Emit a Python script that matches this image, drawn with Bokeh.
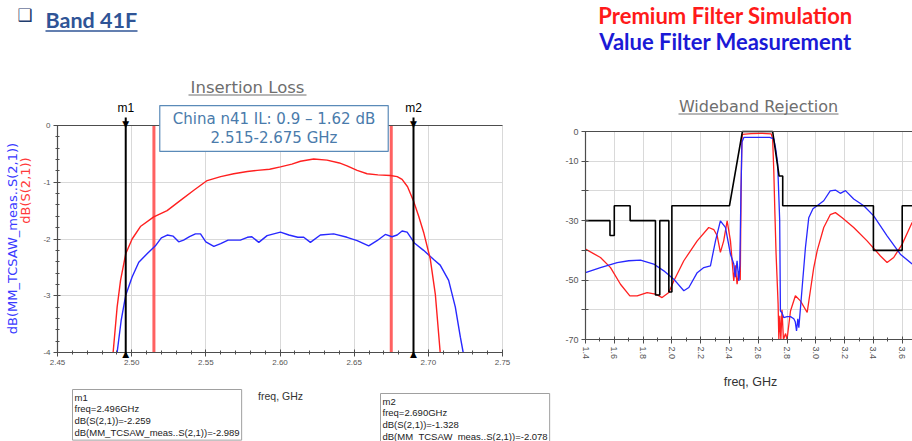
import math
import numpy as np
from bokeh.plotting import figure
from bokeh.models import (Label, Arrow, Range1d, FixedTicker, PrintfTickFormatter,
                          LinearAxis, Grid)
from bokeh.embed import file_html
from bokeh.resources import INLINE

# ---------------- data: Insertion Loss (left chart) ----------------
il_sim_freq = [2.4875, 2.4902, 2.4925, 2.4960, 2.5003, 2.5059, 2.5149, 2.5239, 2.5329,
               2.5419, 2.5509, 2.5600, 2.5688, 2.5780, 2.5846, 2.5930, 2.6003, 2.6080,
               2.6138, 2.6227, 2.6317, 2.6400, 2.6452, 2.6520, 2.6587, 2.6660, 2.6744,
               2.6790, 2.6823, 2.6860, 2.6900, 2.6935, 2.6968, 2.7013, 2.7047, 2.7080]
il_sim_db = [-4.00, -3.20, -2.73, -2.26, -2.00, -1.78, -1.61, -1.50, -1.32,
             -1.14, -0.97, -0.90, -0.85, -0.81, -0.79, -0.77, -0.73, -0.68,
             -0.63, -0.59, -0.61, -0.66, -0.71, -0.79, -0.85, -0.87, -0.88,
             -0.90, -0.95, -1.08, -1.33, -1.60, -1.88, -2.35, -2.97, -4.00]

il_meas_freq = [2.4902, 2.4929, 2.4960, 2.5003, 2.5048, 2.5104, 2.5160, 2.5200, 2.5240, 2.5280,
                2.5317, 2.5350, 2.5390, 2.5430, 2.5464, 2.5500, 2.5554, 2.5600, 2.5650, 2.5733,
                2.5780, 2.5810, 2.5857, 2.5913, 2.6003, 2.6060, 2.6120, 2.6160, 2.6205, 2.6272,
                2.6362, 2.6452, 2.6520, 2.6598, 2.6654, 2.6710, 2.6755, 2.6790, 2.6823, 2.6857,
                2.6906, 2.6968, 2.7036, 2.7080, 2.7137, 2.7182, 2.7216, 2.7235]
il_meas_db = [-4.00, -3.44, -2.99, -2.67, -2.41, -2.26, -2.12, -1.98, -1.93, -1.95,
              -2.05, -2.02, -1.96, -1.91, -1.91, -2.05, -2.13, -2.08, -2.02, -2.02,
              -1.97, -1.96, -2.06, -1.94, -1.88, -1.93, -1.97, -1.97, -2.06, -1.93,
              -1.91, -1.97, -2.03, -2.12, -2.03, -1.92, -1.96, -1.93, -1.86, -1.88,
              -2.07, -2.20, -2.36, -2.46, -2.73, -3.20, -3.73, -4.00]

marker_names = ["m1", "m2"]
marker_freq = [2.496, 2.690]
marker_sim_db = [-2.259, -1.328]
marker_meas_db = [-2.989, -2.078]
band_edges = [2.515, 2.675]
band_note = "China n41 IL: 0.9 \u2013 1.62 dB\n2.515-2.675 GHz"

il_xticks = [2.45, 2.50, 2.55, 2.60, 2.65, 2.70, 2.75]
il_yticks = [0, -1, -2, -3, -4]

# ---------------- data: Wideband Rejection (right chart) ----------------
mask_freq = [1.40, 1.57, 1.57, 1.60, 1.60, 1.71, 1.71, 1.886, 1.886, 1.916, 1.916, 1.979, 1.979,
             2.00, 2.00, 2.40, 2.49, 2.70, 2.745, 2.77, 2.77, 3.40, 3.40, 3.60, 3.60, 3.70]
mask_db = [-30, -30, -35, -35, -25, -25, -30, -30, -55, -55, -30, -30, -54,
           -54, -25, -25, 0, 0, -15, -15, -25, -25, -40, -40, -25, -25]

wb_sim_freq = [1.400, 1.504, 1.574, 1.643, 1.708, 1.759, 1.828, 1.886, 1.932, 1.979,
               2.013, 2.083, 2.176, 2.256, 2.291, 2.315, 2.337, 2.360, 2.384, 2.407,
               2.430, 2.440, 2.453, 2.465, 2.475, 2.481, 2.486, 2.490, 2.550, 2.620,
               2.690, 2.700, 2.708, 2.716, 2.724, 2.738, 2.743, 2.750, 2.757, 2.765,
               2.775, 2.790, 2.800, 2.824, 2.858, 2.893, 2.940, 2.962, 2.985, 3.010,
               3.055, 3.100, 3.136, 3.183, 3.263, 3.356, 3.449, 3.495, 3.541, 3.600, 3.669]
wb_sim_db = [-39.6, -42.4, -45.8, -51.4, -55.3, -55.3, -54.2, -54.7, -55.9, -54.2,
             -50.3, -43.5, -36.8, -32.3, -33.0, -35.1, -40.7, -36.8, -30.1, -36.8,
             -50.3, -45.0, -51.4, -47.0, -50.0, -20.0, -3.0, -1.0, -0.7, -0.6,
             -0.8, -2.5, -13.2, -28.0, -41.3, -58.1, -70.0, -62.0, -70.0, -60.0,
             -70.0, -68.0, -70.0, -60.4, -55.3, -57.0, -60.9, -53.6, -46.0, -40.0,
             -32.3, -28.0, -27.3, -29.0, -32.3, -36.8, -41.9, -44.1, -42.4, -37.9, -30.6]

wb_meas_freq = [1.400, 1.504, 1.620, 1.700, 1.782, 1.874, 1.944, 2.013, 2.083, 2.118,
                2.176, 2.222, 2.268, 2.303, 2.337, 2.372, 2.407, 2.430, 2.440, 2.453,
                2.465, 2.472, 2.480, 2.487, 2.500, 2.600, 2.680, 2.708, 2.722, 2.735,
                2.749, 2.754, 2.765, 2.777, 2.800, 2.824, 2.847, 2.857, 2.866, 2.875,
                2.882, 2.905, 2.928, 2.951, 2.980, 3.009, 3.055, 3.100, 3.136, 3.170,
                3.206, 3.263, 3.333, 3.402, 3.495, 3.587, 3.669]
wb_meas_db = [-47.5, -45.8, -44.1, -43.5, -43.3, -44.6, -46.9, -49.7, -53.6, -52.5,
              -47.5, -45.8, -45.2, -36.8, -30.1, -32.3, -41.3, -44.6, -49.0, -43.5,
              -50.3, -45.0, -20.0, -3.5, -2.0, -2.0, -2.0, -2.5, -6.0, -11.0,
              -30.0, -60.4, -61.0, -62.6, -62.3, -62.3, -63.0, -64.0, -67.1, -63.0,
              -66.0, -52.5, -39.0, -29.0, -26.0, -25.0, -23.3, -20.0, -19.7, -20.8,
              -19.9, -22.7, -25.0, -28.4, -35.1, -41.3, -44.6]

wb_xticks = [1.4, 1.6, 1.8, 2.0, 2.2, 2.4, 2.6, 2.8, 3.0, 3.2, 3.4, 3.6]
wb_yticks = [0, -10, -20, -30, -40, -50, -60, -70]
wb_yhidden = [-20, -40, -60]

# ---------------- layout / styling ----------------
W, H = 912, 441
AX = "#4d4d4d"
GRID = "#d9d9d9"
TICKF = "Liberation Sans"
HEADF = "Lato"
RED = "#ff2020"
BLUE = "#2828ff"

LX0, LX1, LY0, LY1 = 57.0, 502.0, 125.0, 352.0     # 2.45 GHz, 2.75 GHz, 0 dB, -4 dB
RX0, RX1, RY0, RY1 = 585.0, 901.7, 131.0, 339.0     # 1.4 GHz, 3.6 GHz, 0 dB, -70 dB
lkx, lky = (LX1 - LX0) / 0.30, (LY1 - LY0) / 4.0
rkx, rky = (RX1 - RX0) / 2.2, (RY1 - RY0) / 70.0

p = figure(width=W, height=H, output_backend="svg", toolbar_location=None,
           x_axis_type=None, y_axis_type=None,
           x_range=Range1d(2.45 - LX0 / lkx, 2.45 + (W - LX0) / lkx),
           y_range=Range1d(-(H - LY0) / lky, LY0 / lky),
           min_border_left=0, min_border_right=0, min_border_top=0, min_border_bottom=0)
p.extra_x_ranges = {"rx": Range1d(1.4 - RX0 / rkx, 1.4 + (W - RX0) / rkx)}
p.extra_y_ranges = {"ry": Range1d(-(H - RY0) / rky, RY0 / rky)}
p.title.text = ""
p.title.visible = False
p.outline_line_color = None
p.background_fill_color = "white"
p.border_fill_color = "white"
p.grid.visible = False


def Lc(px, py):
    """canvas pixel -> left-chart data coordinates (text placement only)"""
    return 2.45 + (px - LX0) / lkx, -(py - LY0) / lky


def label(px, py, text, **kw):
    x, y = Lc(px, py)
    lab = Label(x=x, y=y, text=text, **kw)
    p.add_layout(lab)
    return lab


def hline(px0, px1, py, color, width=1.0):
    x0, y0 = Lc(px0, py)
    x1, _ = Lc(px1, py)
    p.add_layout(Arrow(start=None, end=None, x_start=x0, y_start=y0, x_end=x1, y_end=y0,
                       line_color=color, line_width=width))


def style_axis(ax, fsize):
    ax.axis_line_color = AX
    ax.axis_line_width = 1.2
    ax.major_tick_line_color = AX
    ax.minor_tick_line_color = AX
    ax.major_tick_in = 3
    ax.major_tick_out = 4
    ax.minor_tick_in = 2
    ax.minor_tick_out = 2
    ax.major_label_text_font = TICKF
    ax.major_label_text_font_size = fsize
    ax.major_label_text_color = "#555555"
    ax.major_label_standoff = 3


HAS_CROSS = "cross_bounds" in Grid.properties()


def add_grid(dim, ticker, bounds, cross, xr="default", yr="default"):
    if HAS_CROSS:
        p.add_layout(Grid(dimension=dim, ticker=ticker, bounds=bounds, cross_bounds=cross,
                          x_range_name=xr, y_range_name=yr, grid_line_color=GRID))
    else:
        t = [v for v in ticker.ticks if bounds[0] <= v <= bounds[1]]
        if dim == 0:
            p.segment(t, [cross[0]] * len(t), t, [cross[1]] * len(t), line_color=GRID,
                      x_range_name=xr, y_range_name=yr, level="underlay")
        else:
            p.segment([cross[0]] * len(t), t, [cross[1]] * len(t), t, line_color=GRID,
                      x_range_name=xr, y_range_name=yr, level="underlay")


# ---------------- left chart: Insertion Loss ----------------
txk = FixedTicker(ticks=il_xticks, minor_ticks=list(np.round(np.arange(2.45, 2.7501, 0.01), 3)))
tyk = FixedTicker(ticks=il_yticks, minor_ticks=list(np.round(np.arange(-4, 0.001, 0.2), 2)))
add_grid(0, txk, (2.45, 2.75), (-4, 0))
add_grid(1, tyk, (-4, 0), (2.45, 2.75))

axLx = LinearAxis(ticker=txk, formatter=PrintfTickFormatter(format="%.2f"),
                  fixed_location=-4, bounds=(2.45, 2.75))
axLy = LinearAxis(ticker=tyk, formatter=PrintfTickFormatter(format="%d"),
                  fixed_location=2.45, bounds=(-4, 0))
style_axis(axLx, "8px")
style_axis(axLy, "8px")
p.add_layout(axLx, "below")
p.add_layout(axLy, "left")
p.add_layout(Arrow(start=None, end=None, x_start=2.45, y_start=0, x_end=2.75, y_end=0,
                   line_color=AX, line_width=1.2))

p.segment(band_edges, [0] * len(band_edges), band_edges, [-4] * len(band_edges),
          line_color="#ff5050", line_width=3, line_alpha=0.9)
p.line(il_meas_freq, il_meas_db, line_color=BLUE, line_width=1.4)
p.line(il_sim_freq, il_sim_db, line_color=RED, line_width=1.4)

for name, f in zip(marker_names, marker_freq):
    p.add_layout(Arrow(start=None, end=None, x_start=f, y_start=Lc(0, 117)[1], x_end=f,
                       y_end=Lc(0, 356)[1], line_color="black", line_width=2))
    p.add_layout(Label(x=f, y=0, text="\u25bc", text_align="center", text_baseline="middle",
                       text_font="DejaVu Sans", text_font_size="9px", text_color="black", y_offset=2))
    p.add_layout(Label(x=f, y=-4, text="\u25b2", text_align="center", text_baseline="middle",
                       text_font="DejaVu Sans", text_font_size="9px", text_color="black", y_offset=-1))
    p.add_layout(Label(x=f, y=Lc(0, 107)[1], text=name, text_align="center",
                       text_baseline="middle", text_font=TICKF, text_font_size="12px",
                       text_color="black"))

note = label(273.5, 128, band_note, text_align="center", text_baseline="middle",
             text_font="DejaVu Sans", text_font_size="15px", text_color="#4a7bab", text_line_height=1.1,
             background_fill_color="white", border_line_color="#5a8ab8", border_line_width=1.2, padding=5)
try:
    note.padding = dict(left=13, right=13, top=4, bottom=4)
except Exception:
    note.padding = 5

label(24.5, 14.5, "\u2751", text_align="center", text_baseline="middle",
      text_font="DejaVu Sans", text_font_size="17px", text_color="#1f3d6e")
label(45, 19, "Band 41F", text_align="left", text_baseline="middle",
      text_font=HEADF, text_font_size="21.5px", text_font_style="bold", text_color="#2f5496")
hline(45, 137, 30.5, "#2f5496", 1.6)
label(247, 86.5, "Insertion Loss", text_align="center", text_baseline="middle",
      text_font="DejaVu Sans", text_font_size="16.5px", text_color="#6e6e6e")
hline(188, 306, 94.5, "#6e6e6e", 1.0)

label(12, 238, "dB(MM_TCSAW_meas..S(2,1))", text_align="center", text_baseline="middle",
      angle=math.pi / 2, text_font="DejaVu Sans", text_font_size="13px", text_color="#3a3aff")
label(25, 190, "dB(S(2,1))", text_align="center", text_baseline="middle",
      angle=math.pi / 2, text_font="DejaVu Sans", text_font_size="13px", text_color="#ff3a3a")
label(280, 395, "freq, GHz", text_align="center", text_baseline="middle",
      text_font=TICKF, text_font_size="10.5px", text_color="#333333")

for i, (px, py) in enumerate([(72, 389), (380, 393)]):
    txt = "%s\nfreq=%.3fGHz\ndB(S(2,1))=%.3f\ndB(MM_TCSAW_meas..S(2,1))=%.3f" % (
        marker_names[i], marker_freq[i], marker_sim_db[i], marker_meas_db[i])
    label(px, py, txt, text_align="left", text_baseline="top",
          text_font=TICKF, text_font_size="9.5px", text_color="#222222", text_line_height=1.08,
          background_fill_color="white", border_line_color="#a0a0a0", border_line_width=1, padding=2)

# ---------------- right chart: Wideband Rejection ----------------
rxk = FixedTicker(ticks=wb_xticks, minor_ticks=list(np.round(np.arange(1.4, 3.71, 0.1), 2)))
ryk = FixedTicker(ticks=wb_yticks, minor_ticks=[])
add_grid(0, rxk, (1.4, 3.7), (-70, 0), "rx", "ry")
add_grid(1, ryk, (-70, 0), (1.4, 3.7), "rx", "ry")

axRx = LinearAxis(x_range_name="rx", y_range_name="ry", ticker=rxk,
                  formatter=PrintfTickFormatter(format="%.1f"), fixed_location=-70, bounds=(1.4, 3.7))
axRy = LinearAxis(x_range_name="rx", y_range_name="ry", ticker=ryk,
                  formatter=PrintfTickFormatter(format="%d"), fixed_location=1.4, bounds=(-70, 0))
style_axis(axRx, "9px")
style_axis(axRy, "9px")
axRx.major_label_orientation = -math.pi / 2
axRy.major_label_overrides = {v: "" for v in wb_yhidden}
p.add_layout(axRx, "below")
p.add_layout(axRy, "left")
p.add_layout(Arrow(start=None, end=None, x_start=1.4, y_start=0, x_end=3.7, y_end=0,
                   x_range_name="rx", y_range_name="ry", line_color=AX, line_width=1.2))

p.line(wb_sim_freq, wb_sim_db, line_color=RED, line_width=1.3, x_range_name="rx", y_range_name="ry")
p.line(wb_meas_freq, wb_meas_db, line_color=BLUE, line_width=1.3, x_range_name="rx", y_range_name="ry")
p.line(mask_freq, mask_db, line_color="black", line_width=1.6, x_range_name="rx", y_range_name="ry")

label(725, 15, "Premium Filter Simulation", text_align="center", text_baseline="middle",
      text_font=HEADF, text_font_size="22px", text_font_style="bold", text_color="#ff1a1a")
label(725, 41, "Value Filter Measurement", text_align="center", text_baseline="middle",
      text_font=HEADF, text_font_size="22px", text_font_style="bold", text_color="#1a1ad6")
label(758, 105.5, "Wideband Rejection", text_align="center", text_baseline="middle",
      text_font="DejaVu Sans", text_font_size="16px", text_color="#6e6e6e")
hline(678, 838, 113.5, "#6e6e6e", 1.0)
label(750, 381, "freq, GHz", text_align="center", text_baseline="middle",
      text_font=TICKF, text_font_size="12.5px", text_color="#333333")

open("out.html", "w").write(file_html(p, INLINE))
